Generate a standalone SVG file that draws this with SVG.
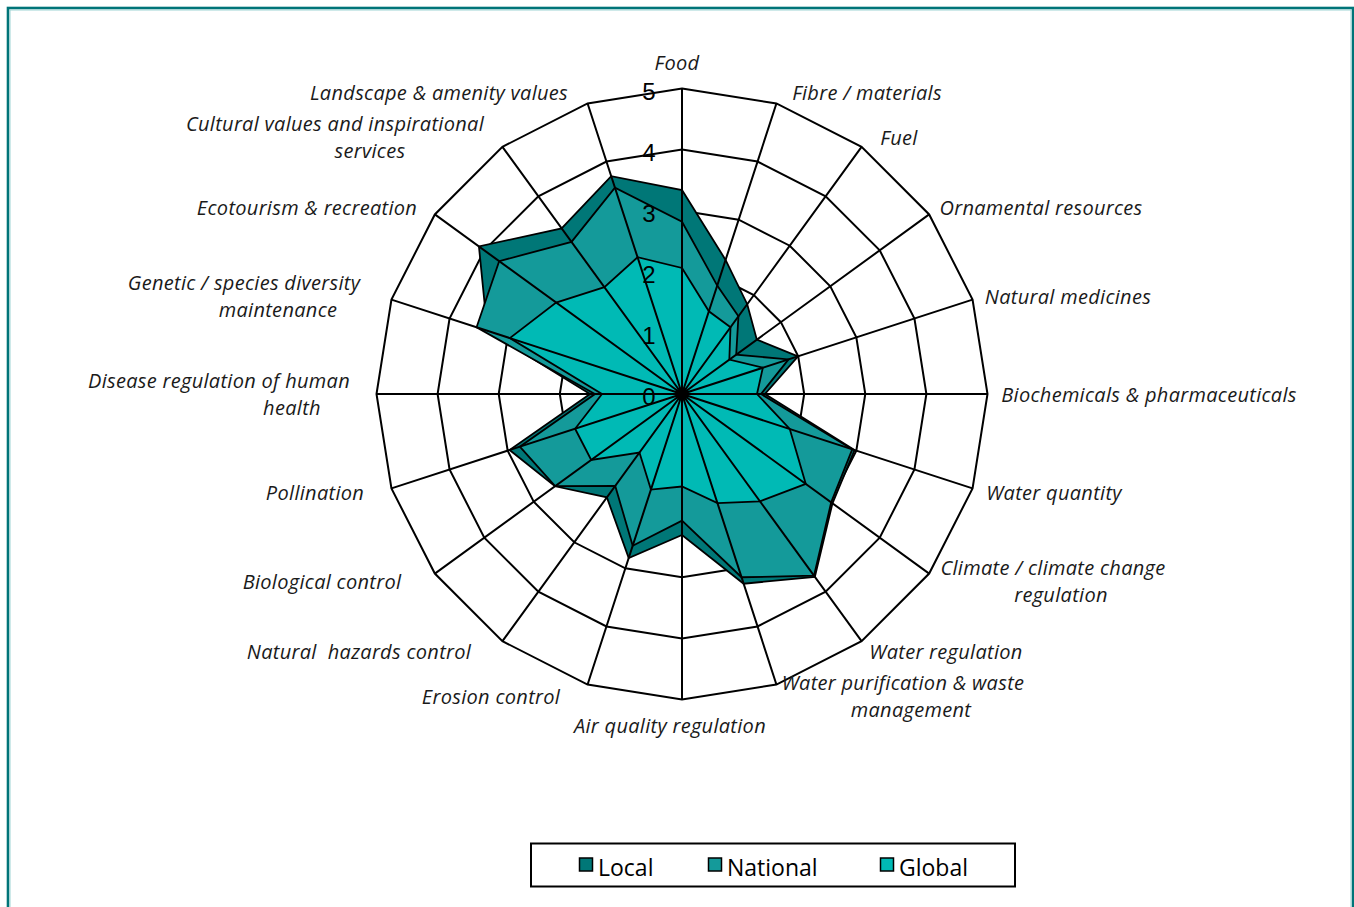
<svg xmlns="http://www.w3.org/2000/svg" width="1354" height="907" viewBox="0 0 1354 907">
<style>
.ring{fill:none;stroke:#000;stroke-width:2;stroke-linejoin:miter}
.spk{fill:none;stroke:#000;stroke-width:2}
.ser{stroke:#000;stroke-width:1.8;stroke-linejoin:miter}
.loc{fill:#007777}
.nat{fill:#149A9A}
.glo{fill:#00BAB5}
.cat{font-family:"Open Sans","Noto Sans",sans-serif;font-style:italic;font-size:20px;letter-spacing:0.3px;fill:#1a1a1a;text-anchor:middle}
.num{font-family:"Liberation Sans",Arial,sans-serif;font-size:24px;fill:#000;text-anchor:middle}
.leg{font-family:"Open Sans","Noto Sans",sans-serif;font-size:23px;fill:#000}
.sw{stroke:#000;stroke-width:1.5}
</style>
<rect id="page" x="0" y="0" width="1354" height="907" fill="#fff"/>
<g id="frame">
<rect x="8" y="8" width="1345" height="930" fill="none" stroke="#007478" stroke-width="2.6"/>
<rect x="10" y="10" width="1341" height="930" fill="none" stroke="#9dd3d3" stroke-width="1"/>
</g>
<g id="grid">
<polygon class="ring" points="682,332.9 700.88,335.89 717.91,344.57 731.43,358.09 740.11,375.12 743.1,394 740.11,412.88 731.43,429.91 717.91,443.43 700.88,452.11 682,455.1 663.12,452.11 646.09,443.43 632.57,429.91 623.89,412.88 620.9,394 623.89,375.12 632.57,358.09 646.09,344.57 663.12,335.89"/>
<polygon class="ring" points="682,271.8 719.76,277.78 753.83,295.14 780.86,322.17 798.22,356.24 804.2,394 798.22,431.76 780.86,465.83 753.83,492.86 719.76,510.22 682,516.2 644.24,510.22 610.17,492.86 583.14,465.83 565.78,431.76 559.8,394 565.78,356.24 583.14,322.17 610.17,295.14 644.24,277.78"/>
<polygon class="ring" points="682,210.7 738.64,219.67 789.74,245.71 830.29,286.26 856.33,337.36 865.3,394 856.33,450.64 830.29,501.74 789.74,542.29 738.64,568.33 682,577.3 625.36,568.33 574.26,542.29 533.71,501.74 507.67,450.64 498.7,394 507.67,337.36 533.71,286.26 574.26,245.71 625.36,219.67"/>
<polygon class="ring" points="682,149.6 757.53,161.56 825.66,196.28 879.72,250.34 914.44,318.47 926.4,394 914.44,469.53 879.72,537.66 825.66,591.72 757.53,626.44 682,638.4 606.47,626.44 538.34,591.72 484.28,537.66 449.56,469.53 437.6,394 449.56,318.47 484.28,250.34 538.34,196.28 606.47,161.56"/>
<polygon class="ring" points="682,88.5 776.41,103.45 861.57,146.84 929.16,214.43 972.55,299.59 987.5,394 972.55,488.41 929.16,573.57 861.57,641.16 776.41,684.55 682,699.5 587.59,684.55 502.43,641.16 434.84,573.57 391.45,488.41 376.5,394 391.45,299.59 434.84,214.43 502.43,146.84 587.59,103.45"/>
</g>
<g id="series-local">
<polygon class="ser loc" points="682,190 725.57,259.9 747.24,304.2 756.83,339.63 798.03,356.3 765,394 854.62,450.09 832.48,503.33 814.84,576.84 743.65,583.74 682,535 628.72,557.96 606.88,497.39 554.98,486.28 509.57,450.03 590,394 487.32,330.74 478.94,246.46 561.62,228.31 611.23,176.21"/>
</g>
<g id="series-national">
<polygon class="ser nat" points="682,221.7 717.23,285.58 738.43,316.33 736.2,354.62 788.52,359.39 761,394 852.24,449.31 831.18,502.39 814.02,575.71 741.55,577.27 682,520.7 632.71,545.69 615.23,485.9 555.15,486.17 519.84,446.69 595,394 476.57,327.25 499.16,261.16 571.5,241.9 614.94,187.62"/>
</g>
<g id="series-global">
<polygon class="ser glo" points="682,268 708.88,311.26 730.49,327.26 729.33,359.61 762.84,367.73 757,394 789.75,429.01 805.78,483.93 759.94,501.28 717.48,503.18 682,486.5 650.94,489.58 639.44,452.57 591.23,459.95 575.1,428.73 602,394 509.86,338.07 556.12,302.54 604.41,287.21 637.56,257.24"/>
</g>
<g id="spokes">
<path class="spk" d="M682,394L682,88.5M682,394L776.41,103.45M682,394L861.57,146.84M682,394L929.16,214.43M682,394L972.55,299.59M682,394L987.5,394M682,394L972.55,488.41M682,394L929.16,573.57M682,394L861.57,641.16M682,394L776.41,684.55M682,394L682,699.5M682,394L587.59,684.55M682,394L502.43,641.16M682,394L434.84,573.57M682,394L391.45,488.41M682,394L376.5,394M682,394L391.45,299.59M682,394L434.84,214.43M682,394L502.43,146.84M682,394L587.59,103.45"/>
</g>
<g id="axis-values">
<text class="num" x="649" y="99.5">5</text>
<text class="num" x="649" y="160.6">4</text>
<text class="num" x="649" y="221.7">3</text>
<text class="num" x="649" y="282.8">2</text>
<text class="num" x="649" y="343.9">1</text>
<text class="num" x="649" y="405">0</text>
</g>
<g id="category-labels">
<text class="cat" x="677" y="70">Food</text>
<text class="cat" x="867" y="100">Fibre / materials</text>
<text class="cat" x="899" y="145">Fuel</text>
<text class="cat" x="1041" y="215">Ornamental resources</text>
<text class="cat" x="1068" y="304">Natural medicines</text>
<text class="cat" x="1149" y="402">Biochemicals &amp; pharmaceuticals</text>
<text class="cat" x="1054" y="500">Water quantity</text>
<text class="cat" x="1053" y="575">Climate / climate change</text>
<text class="cat" x="1061" y="602">regulation</text>
<text class="cat" x="946" y="659">Water regulation</text>
<text class="cat" x="903" y="690">Water purification &amp; waste</text>
<text class="cat" x="911" y="717">management</text>
<text class="cat" x="670" y="733">Air quality regulation</text>
<text class="cat" x="491" y="704">Erosion control</text>
<text class="cat" x="359" y="659" xml:space="preserve">Natural  hazards control</text>
<text class="cat" x="322" y="589">Biological control</text>
<text class="cat" x="315" y="500">Pollination</text>
<text class="cat" x="219" y="388">Disease regulation of human</text>
<text class="cat" x="292" y="415">health</text>
<text class="cat" x="244" y="290">Genetic / species diversity</text>
<text class="cat" x="278" y="317">maintenance</text>
<text class="cat" x="307" y="215">Ecotourism &amp; recreation</text>
<text class="cat" x="335" y="131">Cultural values and inspirational</text>
<text class="cat" x="370" y="158">services</text>
<text class="cat" x="439" y="100">Landscape &amp; amenity values</text>
</g>
<g id="legend">
<rect x="531" y="843.5" width="484" height="43" fill="#fff" stroke="#000" stroke-width="2"/>
<rect class="sw loc" x="579.5" y="858" width="13" height="13"/>
<text class="leg" x="598" y="876">Local</text>
<rect class="sw nat" x="708.5" y="858" width="13" height="13"/>
<text class="leg" x="727" y="876">National</text>
<rect class="sw glo" x="880.5" y="858" width="13" height="13"/>
<text class="leg" x="899" y="876">Global</text>
</g>
</svg>
